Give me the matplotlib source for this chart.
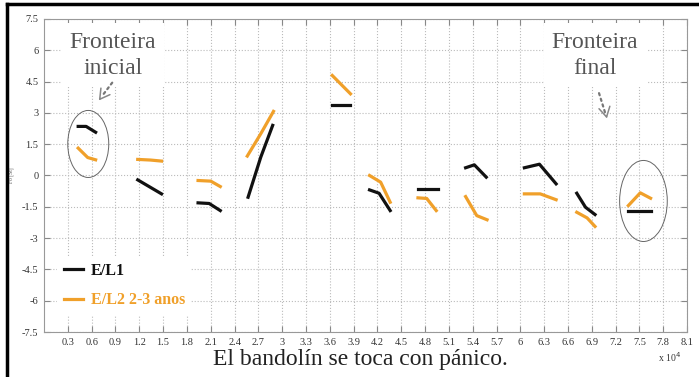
## Fo contours for "El bandolin se toca con panico."
## Import libraries
import matplotlib.pyplot as plt
from matplotlib.patches import Ellipse
from matplotlib.lines import Line2D

## Data (x in units of 10^4)
el1_x = [[0.43, 0.53, 0.65], [1.18, 1.48], [1.94, 2.08, 2.22], [2.57, 2.73, 2.88],
         [3.63, 3.86], [4.10, 4.22, 4.36], [4.71, 4.96], [5.31, 5.42, 5.57],
         [6.05, 6.24, 6.45], [6.71, 6.82, 6.94], [7.36, 7.64]]
el1_y = [[2.35, 2.35, 2.07], [-0.21, -0.88], [-1.31, -1.34, -1.68], [-1.04, 0.88, 2.40],
         [3.39, 3.39], [-0.69, -0.85, -1.68], [-0.67, -0.67], [0.37, 0.51, -0.08],
         [0.37, 0.54, -0.40], [-0.85, -1.52, -1.87], [-1.68, -1.68]]

el2_x = [[0.43, 0.55, 0.65], [1.18, 1.34, 1.48], [1.94, 2.10, 2.22], [2.56, 2.73, 2.89],
         [3.63, 3.86], [4.10, 4.24, 4.36], [4.71, 4.82, 4.94], [5.31, 5.45, 5.58],
         [6.05, 6.25, 6.45], [6.71, 6.84, 6.94], [7.36, 7.51, 7.64]]
el2_y = [[1.31, 0.86, 0.75], [0.77, 0.74, 0.69], [-0.24, -0.27, -0.53], [0.93, 2.0, 3.07],
         [4.79, 3.91], [0.0, -0.32, -1.28], [-1.07, -1.10, -1.68], [-1.01, -1.92, -2.12],
         [-0.88, -0.88, -1.16], [-1.76, -2.03, -2.44], [-1.44, -0.83, -1.09]]

x_ticks = [0.3, 0.6, 0.9, 1.2, 1.5, 1.8, 2.1, 2.4, 2.7, 3, 3.3, 3.6, 3.9, 4.2,
           4.5, 4.8, 5.1, 5.4, 5.7, 6, 6.3, 6.6, 6.9, 7.2, 7.5, 7.8, 8.1]
x_labels = ['0.3', '0.6', '0.9', '1.2', '1.5', '1.8', '2.1', '2.4', '2.7', '3', '3.3',
            '3.6', '3.9', '4.2', '4.5', '4.8', '5.1', '5.4', '5.7', '6', '6.3', '6.6',
            '6.9', '7.2', '7.5', '7.8', '8.1']
y_ticks = [-7.5, -6, -4.5, -3, -1.5, 0, 1.5, 3, 4.5, 6, 7.5]
y_labels = ['-7.5', '-6', '-4.5', '-3', '-1.5', '0', '1.5', '3', '4.5', '6', '7.5']

black = '#111111'
orange = '#f0a02a'
serif = 'Liberation Serif'

fig = plt.figure(figsize=(6.99, 3.77), dpi=100)
ax = fig.add_axes([0.063, 0.119, 0.92, 0.831])

## Draw the contours
for xs, ys in zip(el1_x, el1_y):
    ax.plot(xs, ys, color=black, lw=2.3, zorder=3)
for xs, ys in zip(el2_x, el2_y):
    ax.plot(xs, ys, color=orange, lw=2.3, zorder=3)

## Circles around boundaries
ax.add_patch(Ellipse((0.557, 1.51), 0.516, 3.21, fill=False, ec='#666666', lw=0.7, zorder=4))
ax.add_patch(Ellipse((7.55, -1.22), 0.60, 3.88, fill=False, ec='#666666', lw=0.7, zorder=4))

## Axes styling
ax.set_xlim(0, 8.1)
ax.set_ylim(-7.5, 7.5)
ax.set_xticks(x_ticks)
ax.set_xticklabels(x_labels, fontfamily=serif, fontsize=7.5, color='#333333')
ax.set_yticks(y_ticks)
ax.set_yticklabels(y_labels, fontfamily=serif, fontsize=7.5, color='#333333')
ax.tick_params(direction='in', length=4, color='#888888', top=True, right=True, pad=4)
ax.grid(True, linestyle=':', color='#bbbbbb', lw=0.8)
for s in ax.spines.values():
    s.set_color('#999999')
ax.set_ylabel('Fo [St]', fontsize=4, fontfamily=serif, color='#555555', labelpad=6)

## Legend
h1 = Line2D([], [], color=black, lw=2.3)
h2 = Line2D([], [], color=orange, lw=2.3)
leg = ax.legend([h1, h2], ['E/L1', 'E/L2 2-3 anos'], loc='lower left',
                bbox_to_anchor=(0.008, 0.03), frameon=True, fancybox=False,
                edgecolor='none', facecolor='white', framealpha=1,
                prop={'family': serif, 'weight': 'bold', 'size': 11.5},
                handlelength=1.2, handletextpad=0.5, labelspacing=0.85)
leg.get_texts()[0].set_color(black)
leg.get_texts()[1].set_color(orange)
leg.set_zorder(5)

## Boundary annotations
box = dict(facecolor='white', edgecolor='none', pad=6)
ax.text(0.865, 5.75, 'Fronteira\ninicial', ha='center', va='center', fontsize=17,
        fontfamily=serif, color='#555555', linespacing=1.35, bbox=box, zorder=5)
ax.text(6.94, 5.75, 'Fronteira\nfinal', ha='center', va='center', fontsize=17,
        fontfamily=serif, color='#555555', linespacing=1.35, bbox=box, zorder=5)
shaft = dict(arrowstyle='-', linestyle=':', color='#777777', lw=1.6)
head = dict(arrowstyle='->,head_length=0.7,head_width=0.4', color='#888888', lw=1.1)
ax.annotate('', xy=(0.71, 3.70), xytext=(0.88, 4.55), arrowprops=shaft, zorder=5)
ax.annotate('', xy=(0.69, 3.59), xytext=(0.73, 3.80), arrowprops=head, zorder=5)
ax.annotate('', xy=(7.08, 2.85), xytext=(6.98, 4.07), arrowprops=shaft, zorder=5)
ax.annotate('', xy=(7.09, 2.73), xytext=(7.075, 2.98), arrowprops=head, zorder=5)

## Sentence and multiplier
fig.text(0.515, 0.032, 'El bandolín se toca con pánico.', ha='center', va='baseline',
         fontsize=17, fontfamily=serif, color='#222222')
fig.text(0.958, 0.052, r'x 10$^4$', ha='center', va='center', fontsize=7,
         fontfamily=serif, color='#333333')

## Black frame on top and left
fig.add_artist(Line2D([7 / 699, 1], [1 - 4 / 377, 1 - 4 / 377], color='black', lw=2.5,
                      transform=fig.transFigure))
fig.add_artist(Line2D([7 / 699, 7 / 699], [0, 1 - 4 / 377], color='black', lw=2.5,
                      transform=fig.transFigure))

fig.savefig('out.png', dpi=100)
